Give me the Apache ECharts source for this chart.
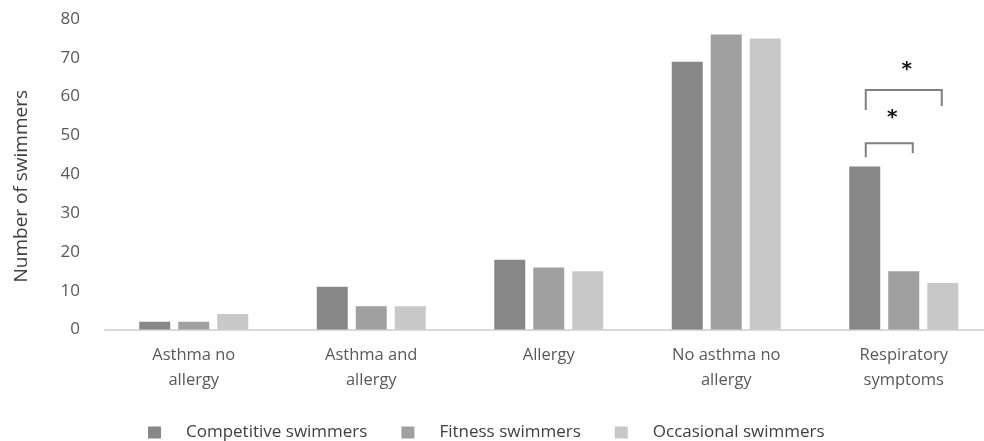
<!DOCTYPE html>
<html>
<head>
<meta charset="utf-8">
<script src="https://cdn.jsdelivr.net/npm/echarts@6/dist/echarts.min.js"></script>
<style>
html,body{margin:0;padding:0;background:#fff;overflow:hidden;}
#chart{width:1000px;height:441px;}
</style>
</head>
<body>
<div id="chart"></div>
<script>
const categories = ['Asthma no\nallergy', 'Asthma and\nallergy', 'Allergy', 'No asthma no\nallergy', 'Respiratory\nsymptoms'];
const seriesNames = ['Competitive swimmers', 'Fitness swimmers', 'Occasional swimmers'];
const competitive = [2, 11, 18, 69, 42];
const fitness = [2, 6, 16, 76, 15];
const occasional = [4, 6, 15, 75, 12];
const yTicks = [0, 10, 20, 30, 40, 50, 60, 70, 80];
// significance brackets: [category index, series A, series B, bracket level]
const brackets = [[4, 0, 1, 48], [4, 0, 2, 61.7]];

const colors = ['#878787', '#a0a0a0', '#c8c8c8'];
const FONT = 'Open Sans';
const BAR_W = 31, BAR_GAP = 8;

const chart = echarts.init(document.getElementById('chart'), null, {renderer: 'canvas'});

function barOffset(i) { return (i - 1) * (BAR_W + BAR_GAP); }

const option = {
  animation: false,
  backgroundColor: '#ffffff',
  grid: {left: 105, right: 7.5, top: 19, bottom: 111.5, containLabel: false},
  legend: {
    data: seriesNames,
    left: 143, top: 419,
    icon: 'rect', itemWidth: 13, itemHeight: 12, itemGap: 34,
    textStyle: {fontFamily: FONT, fontSize: 17, color: '#404040', padding: [0, 0, 0, 20]}
  },
  xAxis: {
    type: 'category',
    data: categories,
    axisLine: {lineStyle: {color: '#d9d9d9', width: 2}},
    axisTick: {show: false},
    axisLabel: {fontFamily: FONT, fontSize: 16.5, color: '#595959', lineHeight: 25, margin: 13, interval: 0}
  },
  yAxis: {
    type: 'value',
    min: yTicks[0], max: yTicks[yTicks.length - 1], interval: yTicks[1] - yTicks[0],
    name: 'Number of swimmers',
    nameLocation: 'middle',
    nameGap: 74,
    nameRotate: 90,
    nameTextStyle: {fontFamily: FONT, fontSize: 19, color: '#404040', padding: [0, 24, 0, 0]},
    axisLine: {show: false},
    axisTick: {show: false},
    splitLine: {show: false},
    axisLabel: {fontFamily: FONT, fontSize: 17, color: '#595959', margin: 25}
  },
  series: [
    {name: seriesNames[0], type: 'bar', data: competitive, barWidth: BAR_W, barGap: (BAR_GAP / BAR_W * 100) + '%', itemStyle: {color: colors[0]}},
    {name: seriesNames[1], type: 'bar', data: fitness, barWidth: BAR_W, barGap: (BAR_GAP / BAR_W * 100) + '%', itemStyle: {color: colors[1]}},
    {name: seriesNames[2], type: 'bar', data: occasional, barWidth: BAR_W, barGap: (BAR_GAP / BAR_W * 100) + '%', itemStyle: {color: colors[2]}},
    {
      name: 'significance', type: 'custom', data: brackets,
      encode: {x: 0, y: 3},
      silent: true,
      z: 10,
      renderItem: function (params, api) {
        const cat = api.value(0), a = api.value(1), b = api.value(2), lvl = api.value(3);
        const c = api.coord([cat, lvl]);
        const outer = (b - a) > 1;
        const x1 = c[0] + barOffset(a) + 1;
        const x2 = c[0] + barOffset(b) + (outer ? -1 : 9);
        const y = c[1];
        const dl = outer ? 20 : 14, dr = outer ? 16 : 10;
        return {
          type: 'group',
          children: [
            {type: 'polyline', shape: {points: [[x1, y + dl], [x1, y], [x2, y], [x2, y + dr]]},
             style: {stroke: '#808080', lineWidth: 2, fill: null}},
            {type: 'text', style: {text: '*', x: (x1 + x2) / 2 + 3, y: y - (outer ? 20 : 25),
             fontFamily: 'DejaVu Sans', fontWeight: 'bold', fontSize: 20, fill: '#111', align: 'center', verticalAlign: 'middle'}}
          ]
        };
      }
    }
  ]
};
chart.setOption(option);
</script>
</body>
</html>
